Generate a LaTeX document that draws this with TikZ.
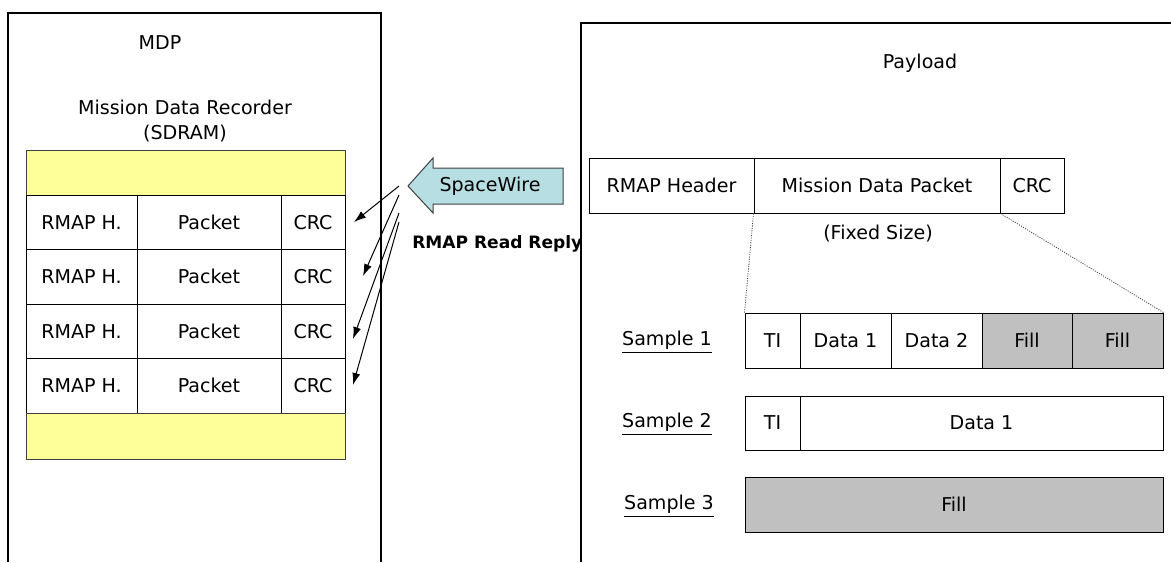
\documentclass[tikz,border=0pt]{standalone}
\usepackage{fontspec}
\setmainfont{DejaVu Sans}
\usetikzlibrary{arrows.meta}
\definecolor{memyellow}{RGB}{255,255,153}
\definecolor{fillgray}{RGB}{192,192,192}
\definecolor{swteal}{RGB}{183,222,226}
\definecolor{edgegray}{RGB}{64,64,64}
\begin{document}
\begin{tikzpicture}[x=0.75pt,y=-0.75pt,
  txt/.style={inner sep=0pt, font=\fontsize{14.3}{17}\selectfont},
  sz/.style 2 args={minimum width=#1*0.75pt, minimum height=#2*0.75pt},
  cell/.style={draw=black, line width=0.75pt, fill=white, inner sep=0pt, font=\fontsize{14.3}{17}\selectfont},
  graycell/.style={cell, fill=fillgray},
  ybox/.style={draw=edgegray, line width=0.75pt, fill=memyellow, inner sep=0pt},
  frame/.style={draw=black, line width=1.5pt},
  swarrow/.style={draw=edgegray, line width=0.75pt, fill=swteal},
  reply/.style={draw=black, line width=0.75pt, -{Latex[length=9pt,width=6pt]}},
  zoomline/.style={draw=edgegray, line width=0.6pt, dash pattern=on 0.8pt off 1pt}
]
\useasboundingbox (0,0) rectangle (1171,562);

% ---------- left: MDP ----------
\node[txt] (mdp) at (160,43) {MDP};
\node[txt] (mdr) at (185,107) {Mission Data Recorder};
\node[txt] (sdram) at (185,134) {(SDRAM)};

\node[ybox, sz={319}{45}] (ytop) at (185.5,172.5) {};
\foreach \i/\yc in {1/222.25, 2/276.75, 3/331.25, 4/385.75} {
  \node[cell, sz={111}{54.5}] (rh\i) at (81.5,\yc) {RMAP H.};
  \node[cell, sz={144}{54.5}] (pk\i) at (209,\yc) {Packet};
  \node[cell, sz={64}{54.5}] (crc\i) at (313,\yc) {CRC};
}
\node[ybox, sz={319}{46}] (ybot) at (185.5,436) {};

% ---------- SpaceWire arrow ----------
\path[swarrow] (408,186) -- (433,158) -- (433,168) -- (563,168) -- (563,204)
  -- (433,204) -- (433,213) -- cycle;
\node[txt] (spw) at (490,186) {SpaceWire};
\node[inner sep=0pt, anchor=west, font=\fontsize{12.8}{15}\selectfont\bfseries] (rrr) at (412,244) {RMAP Read Reply};

\coordinate (a1s) at (399,186); \coordinate (a1e) at (354,222);
\coordinate (a2s) at (399,195); \coordinate (a2e) at (363,276);
\coordinate (a3s) at (399,213); \coordinate (a3e) at (353,339);
\coordinate (a4s) at (399,222); \coordinate (a4e) at (353,385);
\draw[reply] (a1s) -- (a1e);
\draw[reply] (a2s) -- (a2e);
\draw[reply] (a3s) -- (a3e);
\draw[reply] (a4s) -- (a4e);

% ---------- right: Payload ----------
\node[txt] (payload) at (920,63) {Payload};
\node[cell, sz={165}{55}] (hdr) at (671.5,185.5) {RMAP Header};
\node[cell, sz={246}{55}] (mdpk) at (877,185.5) {Mission Data Packet};
\node[cell, sz={64}{55}] (pcrc) at (1032,185.5) {CRC};
\node[txt] (fixed) at (878,234) {(Fixed Size)};

\node[txt] (s1lab) at (667,342) {\underline{Sample 1}};
\node[cell, sz={55}{55}] (s1ti) at (772.5,340.5) {TI};
\node[cell, sz={91}{55}] (s1d1) at (845.5,340.5) {Data 1};
\node[cell, sz={91}{55}] (s1d2) at (936.5,340.5) {Data 2};
\node[graycell, sz={90}{55}] (s1f1) at (1027,340.5) {Fill};
\node[graycell, sz={91}{55}] (s1f2) at (1117.5,340.5) {Fill};

\node[txt] (s2lab) at (667,424) {\underline{Sample 2}};
\node[cell, sz={55}{54}] (s2ti) at (772.5,423) {TI};
\node[cell, sz={363}{54}] (s2d1) at (981.5,423) {Data 1};

\node[txt] (s3lab) at (669,506) {\underline{Sample 3}};
\node[graycell, sz={418}{55}] (s3f) at (954,504.5) {Fill};

\draw[zoomline] (mdpk.south west) -- (s1ti.north west);
\draw[zoomline] (mdpk.south east) -- (s1f2.north east);

% ---------- frames ----------
\draw[frame] (8,562) -- (8,13) -- (381,13) -- (381,562);
\draw[frame] (581,562) -- (581,23) -- (1171,23);
\end{tikzpicture}
\end{document}
